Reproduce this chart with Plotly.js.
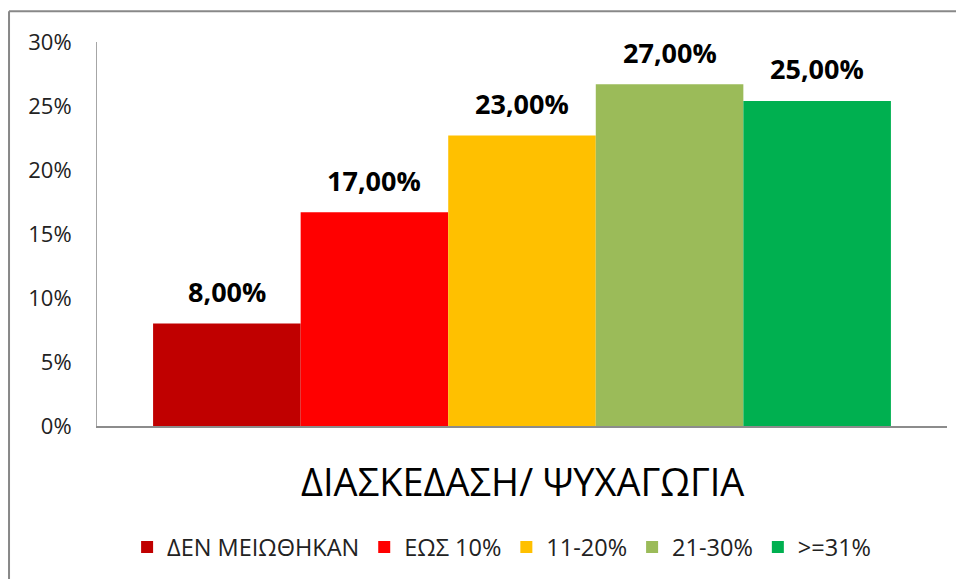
<!DOCTYPE html>
<html>
<head>
<meta charset="utf-8">
<script src="https://cdn.plot.ly/plotly-3.0.1.min.js"></script>
<style>html,body{margin:0;padding:0;background:#fff;}#chart{width:956px;height:579px;}</style>
</head>
<body>
<div id="chart"></div>
<script>
var categoryLabel = "ΔΙΑΣΚΕΔΑΣΗ/ ΨΥΧΑΓΩΓΙΑ";
var seriesNames = ["ΔΕΝ ΜΕΙΩΘΗΚΑΝ", "ΕΩΣ 10%", "11-20%", "21-30%", ">=31%"];
var seriesValues = [8.0, 16.7, 22.7, 26.7, 25.4];
var valueLabels = ["8,00%", "17,00%", "23,00%", "27,00%", "25,00%"];
var seriesColors = ["#C00000", "#FF0000", "#FFC000", "#9BBB59", "#00B050"];
var yTickValues = [0, 5, 10, 15, 20, 25, 30];
var yTickLabels = ["0%", "5%", "10%", "15%", "20%", "25%", "30%"];

var FONT = "Open Sans, Noto Sans, sans-serif";

var traces = seriesNames.map(function (name, i) {
  return {
    type: "bar",
    name: name,
    x: [i],
    y: [seriesValues[i]],
    width: [1],
    marker: { color: seriesColors[i], line: { width: 0 } },
    hoverinfo: "skip"
  };
});

var annotations = seriesNames.map(function (name, i) {
  return {
    x: i, y: seriesValues[i], xref: "x", yref: "y",
    text: "<b>" + valueLabels[i] + "</b>",
    showarrow: false, yanchor: "middle", yshift: 32,
    font: { family: FONT, size: 27, color: "#000" }
  };
});
annotations.push({
  x: 0.5, xref: "paper", y: -0.144, yref: "paper",
  text: categoryLabel, showarrow: false, xanchor: "center", yanchor: "middle",
  font: { family: FONT, size: 38, color: "#000" }
});

var layout = {
  width: 956, height: 579,
  margin: { l: 97, r: 9, t: 42, b: 151, pad: 0 },
  paper_bgcolor: "#fff", plot_bgcolor: "#fff",
  showlegend: true,
  barmode: "overlay",
  font: { family: FONT, color: "#000" },
  xaxis: {
    range: [-0.88, 4.88], showticklabels: false, ticks: "", showgrid: false,
    zeroline: false, showline: true, linecolor: "#8c8c8c", linewidth: 2, fixedrange: true
  },
  yaxis: {
    range: [0, 30], tickmode: "array", tickvals: yTickValues, ticktext: yTickLabels, ticks: "",
    showgrid: false, zeroline: false, showline: true, linecolor: "#a6a6a6", linewidth: 1,
    ticklabelstandoff: 20,
    tickfont: { family: FONT, size: 22, color: "#222" }, fixedrange: true
  },
  legend: {
    orientation: "h", x: 0.476, xanchor: "center", y: -0.316, yanchor: "middle",
    font: { family: FONT, size: 23.5, color: "#222" },
    itemclick: false, itemdoubleclick: false, traceorder: "normal"
  },
  annotations: annotations,
  shapes: [
    { type: "line", xref: "paper", yref: "paper", x0: -0.1035, x1: 1.02, y0: 1.0803, y1: 1.0803,
      line: { color: "#888", width: 2 } },
    { type: "line", xref: "paper", yref: "paper", x0: -0.1035, x1: -0.1035, y0: 1.0803, y1: -0.4,
      line: { color: "#888", width: 2 } }
  ]
};

Plotly.newPlot("chart", traces, layout, { staticPlot: true, displayModeBar: false });
</script>
</body>
</html>
